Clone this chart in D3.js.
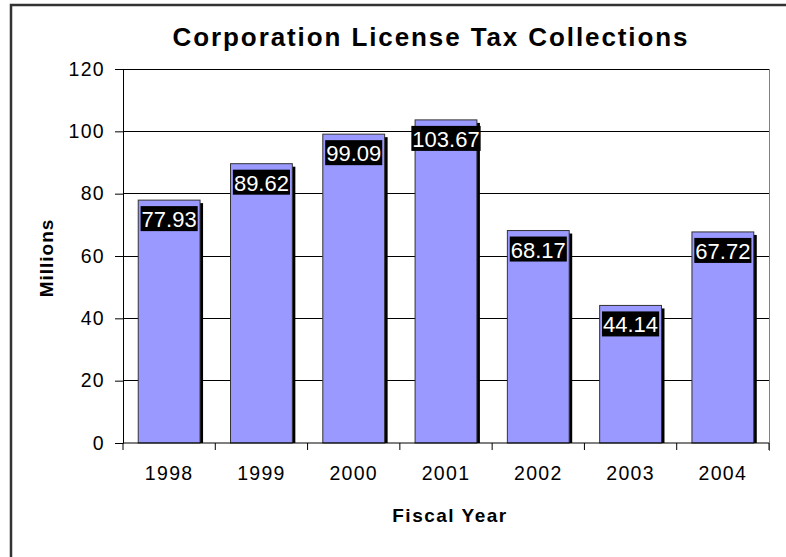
<!DOCTYPE html>
<html><head><meta charset="utf-8">
<script src="https://cdn.jsdelivr.net/npm/d3@7"></script>
<style>body{margin:0;background:#fff}svg{display:block;font-family:Arial,"Liberation Sans",sans-serif}</style>
</head><body><svg id="c" width="786" height="557"></svg>
<script>
const years = ["1998","1999","2000","2001","2002","2003","2004"];
const values = [77.93, 89.62, 99.09, 103.67, 68.17, 44.14, 67.72];
const yTicks = [0,20,40,60,80,100,120];
const title = "Corporation License Tax Collections";
const xTitle = "Fiscal Year";
const yTitle = "Millions";

const svg = d3.select("#c");
const m = {l:123, r:769, t:69, b:443};
svg.append("rect").attr("x",11).attr("y",5).attr("width",800).attr("height",600)
  .attr("fill","#fff").attr("stroke","#333").attr("stroke-width",2.5);

const x = d3.scaleBand().domain(years).range([m.l,m.r]).paddingInner(0.33).paddingOuter(0.165);
const y = d3.scaleLinear().domain([0,120]).range([m.b,m.t]);

svg.append("g").selectAll("line").data(yTicks.filter(d=>d>0)).join("line")
  .attr("x1",m.l).attr("x2",m.r).attr("y1",d=>y(d)).attr("y2",d=>y(d))
  .attr("stroke","#000").attr("stroke-width",1).attr("shape-rendering","crispEdges");
svg.append("line").attr("x1",m.r).attr("x2",m.r).attr("y1",m.t).attr("y2",m.b+8)
  .attr("stroke","#808080").attr("shape-rendering","crispEdges");

svg.append("g").selectAll("rect").data(values).join("rect")
  .attr("x",(d,i)=>x(years[i])+3).attr("y",d=>y(d)+3)
  .attr("width",x.bandwidth()).attr("height",d=>m.b-y(d)-3).attr("fill","#000");
svg.append("g").selectAll("rect").data(values).join("rect")
  .attr("x",(d,i)=>x(years[i])).attr("y",d=>y(d))
  .attr("width",x.bandwidth()).attr("height",d=>m.b-y(d))
  .attr("fill","#9999ff").attr("stroke","#333").attr("stroke-width",1);

const ya = d3.axisLeft(y).tickValues(yTicks).tickSize(8).tickPadding(10);
const gy = svg.append("g").attr("transform",`translate(${m.l},0)`).call(ya);
gy.select(".domain").attr("stroke","#000");
gy.selectAll("text").attr("font-size",19.5).attr("letter-spacing",1.3).attr("fill","#000")
  .attr("font-family","Arial, Liberation Sans, sans-serif");

const xt = d3.scaleLinear().domain([0,7]).range([m.l,m.r]);
svg.append("line").attr("x1",m.l).attr("x2",m.r).attr("y1",m.b).attr("y2",m.b).attr("stroke","#000");
svg.append("g").selectAll("line").data(d3.range(8)).join("line")
  .attr("x1",d=>xt(d)).attr("x2",d=>xt(d)).attr("y1",m.b).attr("y2",m.b+7).attr("stroke","#000");
svg.append("g").selectAll("text").data(years).join("text")
  .attr("x",d=>x(d)+x.bandwidth()/2).attr("y",480).attr("text-anchor","middle")
  .attr("font-size",19.5).attr("letter-spacing",1.3).text(d=>d);

const lg = svg.append("g").selectAll("g").data(values).join("g");
lg.each(function(d,i){
  const g = d3.select(this);
  const cx = x(years[i])+x.bandwidth()/2;
  const t = g.append("text").attr("x",cx).attr("y",y(d)+27).attr("text-anchor","middle")
    .attr("font-size",22).attr("fill","#fff").text(d.toFixed(2));
  const bb = t.node().getBBox();
  g.insert("rect","text").attr("x",bb.x-1).attr("y",y(d)+6).attr("width",bb.width+2).attr("height",25).attr("fill","#000");
});

svg.append("text").attr("x",431).attr("y",46).attr("text-anchor","middle")
  .attr("font-size",26).attr("font-weight","bold").attr("letter-spacing",1.9).text(title);
svg.append("text").attr("x",450).attr("y",522).attr("text-anchor","middle")
  .attr("font-size",19).attr("font-weight","bold").attr("letter-spacing",1.5).text(xTitle);
svg.append("text").attr("transform","translate(53,258) rotate(-90)").attr("text-anchor","middle")
  .attr("font-size",19).attr("font-weight","bold").attr("letter-spacing",1).text(yTitle);
</script></body></html>
